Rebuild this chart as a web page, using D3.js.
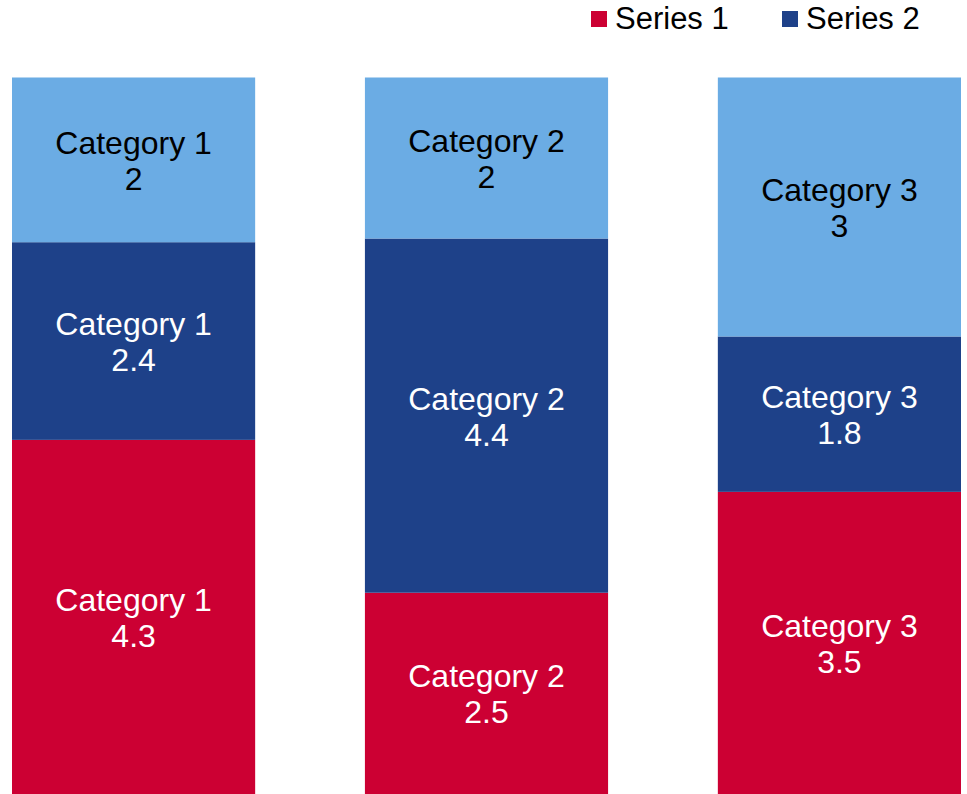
<!DOCTYPE html>
<html>
<head>
<meta charset="utf-8">
<script src="https://cdn.jsdelivr.net/npm/d3@7"></script>
<style>
  html, body { margin: 0; padding: 0; background: #fff; }
  svg { display: block; }
  text { font-family: "Liberation Sans", Arial, sans-serif; }
</style>
</head>
<body>
<svg id="chart" width="967" height="794"></svg>
<script>
const categories = ["Category 1", "Category 2", "Category 3"];
const seriesNames = ["Series 1", "Series 2", "Series 3"];
const series1 = [4.3, 2.5, 3.5];
const series2 = [2.4, 4.4, 1.8];
const series3 = [2, 2, 3];
const legendSeries = ["Series 1", "Series 2"];

const colors = ["#CC0033", "#1E4189", "#6BACE4"];
const labelColors = ["#ffffff", "#ffffff", "#000000"];

const rows = categories.map((c, i) => ({
  category: c,
  "Series 1": series1[i],
  "Series 2": series2[i],
  "Series 3": series3[i]
}));

const stacked = d3.stack()
  .keys(seriesNames)
  .offset(d3.stackOffsetExpand)(rows);

const svg = d3.select("#chart");

const x = d3.scaleBand()
  .domain(categories)
  .range([12, 961])
  .paddingInner(0.311)
  .paddingOuter(0);

const y = d3.scaleLinear()
  .domain([0, 1])
  .range([794, 77.5]);

const color = d3.scaleOrdinal().domain(seriesNames).range(colors);
const labelColor = d3.scaleOrdinal().domain(seriesNames).range(labelColors);

const groups = svg.append("g")
  .selectAll("g")
  .data(stacked)
  .join("g")
  .attr("fill", d => color(d.key));

groups.selectAll("rect")
  .data(d => d.map(p => ({ p, key: d.key })))
  .join("rect")
  .attr("x", d => x(d.p.data.category))
  .attr("width", x.bandwidth())
  .attr("y", d => y(d.p[1]))
  .attr("height", d => y(d.p[0]) - y(d.p[1]));

const labelSize = 32;
const legendSize = 31;
const lineGap = 36;

const labels = svg.append("g")
  .selectAll("g")
  .data(stacked)
  .join("g")
  .selectAll("text")
  .data(d => d.map(p => ({ p, key: d.key })))
  .join("text")
  .attr("text-anchor", "middle")
  .attr("font-size", labelSize)
  .attr("fill", d => labelColor(d.key))
  .attr("x", d => x(d.p.data.category) + x.bandwidth() / 2)
  .attr("y", d => (y(d.p[0]) + y(d.p[1])) / 2);

labels.each(function(d) {
  const t = d3.select(this);
  const mid = (y(d.p[0]) + y(d.p[1])) / 2;
  t.append("tspan")
    .attr("x", x(d.p.data.category) + x.bandwidth() / 2)
    .attr("y", mid - lineGap / 2 + 12)
    .text(d.p.data.category);
  t.append("tspan")
    .attr("x", x(d.p.data.category) + x.bandwidth() / 2)
    .attr("y", mid + lineGap / 2 + 12)
    .text(d.p.data[d.key]);
});

// Legend
const legendX = [591, 782];
const legend = svg.append("g")
  .selectAll("g")
  .data(legendSeries)
  .join("g")
  .attr("transform", (d, i) => `translate(${legendX[i]},0)`);

legend.append("rect")
  .attr("x", 0)
  .attr("y", 11)
  .attr("width", 16)
  .attr("height", 16)
  .attr("fill", d => color(d));

legend.append("text")
  .attr("x", 24)
  .attr("y", 29)
  .attr("font-size", legendSize)
  .attr("fill", "#000")
  .text(d => d);
</script>
</body>
</html>
